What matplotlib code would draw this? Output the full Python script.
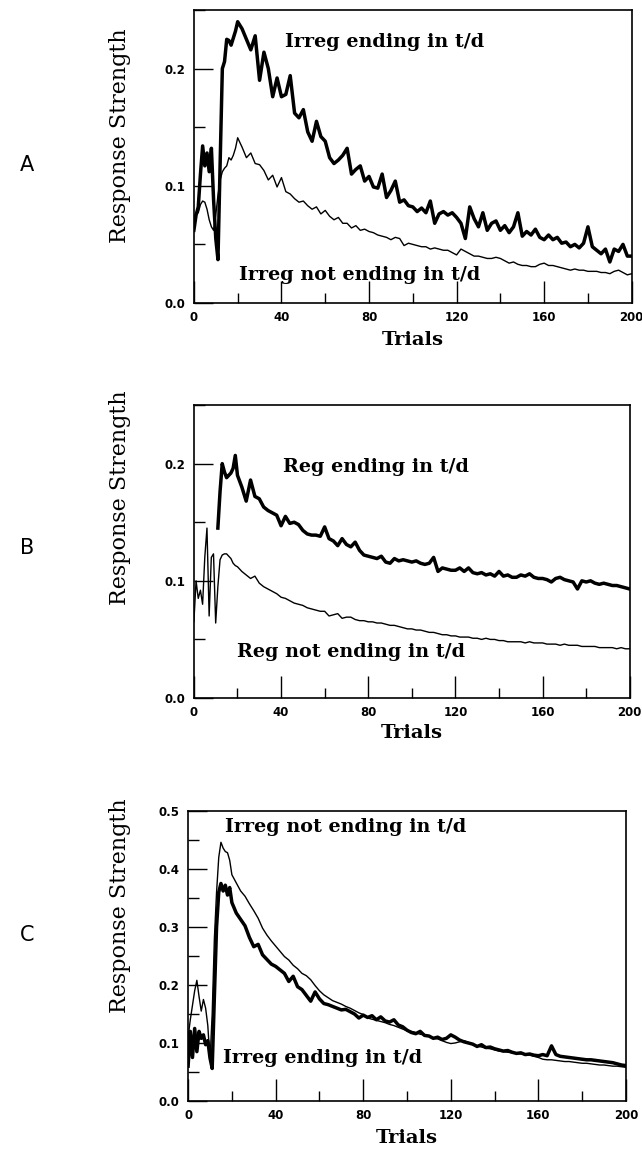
import numpy as np
import matplotlib.pyplot as plt
from matplotlib.ticker import MultipleLocator

# ==========================
# Data
# ==========================

# every trial up to 20, then every 2nd trial up to 200
trials = np.r_[np.arange(0, 21), np.arange(22, 201, 2)]

nan = np.nan

# Panel A
a_irreg_td = [
    # 0-20
    0.062, 0.075, 0.082, 0.110, 0.134, 0.117, 0.128, 0.112, 0.132, 0.088, 0.055,
    0.037, 0.120, 0.200, 0.206, 0.225, 0.224, 0.220, 0.226, 0.232, 0.240,
    # 22-40
    0.234, 0.225, 0.216, 0.228, 0.190, 0.214, 0.200, 0.176, 0.192, 0.176,
    # 42-60
    0.178, 0.194, 0.162, 0.158, 0.165, 0.146, 0.138, 0.155, 0.142, 0.138,
    # 62-80
    0.124, 0.119, 0.122, 0.126, 0.132, 0.110, 0.114, 0.117, 0.104, 0.108,
    # 82-100
    0.099, 0.098, 0.110, 0.090, 0.096, 0.104, 0.086, 0.088, 0.083, 0.082,
    # 102-120
    0.078, 0.081, 0.077, 0.087, 0.068, 0.076, 0.078, 0.075, 0.077, 0.073,
    # 122-140
    0.068, 0.055, 0.082, 0.072, 0.065, 0.077, 0.062, 0.068, 0.070, 0.062,
    # 142-160
    0.066, 0.060, 0.065, 0.077, 0.057, 0.061, 0.058, 0.063, 0.056, 0.054,
    # 162-180
    0.058, 0.054, 0.056, 0.051, 0.052, 0.048, 0.050, 0.047, 0.051, 0.065,
    # 182-200
    0.048, 0.045, 0.042, 0.046, 0.035, 0.046, 0.044, 0.050, 0.040, 0.040,
]

a_irreg_not_td = [
    # 0-20
    0.074, 0.076, 0.077, 0.084, 0.087, 0.086, 0.080, 0.071, 0.065, 0.062, 0.075,
    0.092, 0.105, 0.112, 0.115, 0.117, 0.124, 0.122, 0.126, 0.132, 0.141,
    # 22-40
    0.133, 0.124, 0.128, 0.119, 0.118, 0.113, 0.105, 0.109, 0.099, 0.107,
    # 42-60
    0.095, 0.093, 0.089, 0.086, 0.087, 0.083, 0.080, 0.082, 0.076, 0.079,
    # 62-80
    0.074, 0.071, 0.073, 0.068, 0.068, 0.064, 0.066, 0.062, 0.063, 0.061,
    # 82-100
    0.060, 0.058, 0.057, 0.056, 0.054, 0.056, 0.055, 0.049, 0.051, 0.050,
    # 102-120
    0.049, 0.048, 0.048, 0.046, 0.047, 0.046, 0.045, 0.045, 0.043, 0.041,
    # 122-140
    0.046, 0.044, 0.042, 0.040, 0.040, 0.039, 0.038, 0.038, 0.039, 0.038,
    # 142-160
    0.036, 0.034, 0.035, 0.033, 0.032, 0.032, 0.031, 0.031, 0.033, 0.034,
    # 162-180
    0.032, 0.032, 0.031, 0.030, 0.029, 0.028, 0.029, 0.028, 0.028, 0.027,
    # 182-200
    0.027, 0.027, 0.026, 0.026, 0.025, 0.027, 0.028, 0.026, 0.024, 0.025,
]

# Panel B
b_reg_td = [
    # 0-20
    nan, nan, nan, nan, nan, nan, nan, nan, nan, nan, nan,
    0.145, 0.176, 0.200, 0.193, 0.188, 0.190, 0.192, 0.196, 0.207, 0.190,
    # 22-40
    0.180, 0.168, 0.186, 0.172, 0.170, 0.163, 0.160, 0.158, 0.156, 0.147,
    # 42-60
    0.155, 0.149, 0.150, 0.148, 0.143, 0.140, 0.139, 0.139, 0.138, 0.146,
    # 62-80
    0.136, 0.134, 0.130, 0.136, 0.131, 0.129, 0.133, 0.126, 0.122, 0.121,
    # 82-100
    0.120, 0.119, 0.121, 0.116, 0.115, 0.119, 0.117, 0.118, 0.117, 0.116,
    # 102-120
    0.117, 0.115, 0.114, 0.115, 0.120, 0.108, 0.111, 0.110, 0.109, 0.109,
    # 122-140
    0.111, 0.108, 0.111, 0.107, 0.106, 0.107, 0.105, 0.106, 0.104, 0.108,
    # 142-160
    0.104, 0.105, 0.103, 0.103, 0.105, 0.104, 0.106, 0.103, 0.102, 0.102,
    # 162-180
    0.101, 0.099, 0.102, 0.103, 0.101, 0.100, 0.099, 0.093, 0.100, 0.099,
    # 182-200
    0.100, 0.098, 0.097, 0.098, 0.097, 0.096, 0.096, 0.095, 0.094, 0.093,
]

b_reg_not_td = [
    # 0-20
    0.065, 0.100, 0.085, 0.092, 0.080, 0.120, 0.145, 0.070, 0.120, 0.123, 0.064,
    0.095, 0.118, 0.122, 0.123, 0.123, 0.121, 0.119, 0.115, 0.113, 0.112,
    # 22-40
    0.108, 0.105, 0.102, 0.104, 0.098, 0.095, 0.093, 0.091, 0.089, 0.086,
    # 42-60
    0.085, 0.083, 0.081, 0.080, 0.079, 0.077, 0.076, 0.075, 0.074, 0.074,
    # 62-80
    0.070, 0.071, 0.072, 0.068, 0.069, 0.069, 0.067, 0.066, 0.066, 0.065,
    # 82-100
    0.065, 0.064, 0.064, 0.063, 0.062, 0.062, 0.061, 0.060, 0.059, 0.059,
    # 102-120
    0.058, 0.058, 0.057, 0.056, 0.056, 0.055, 0.054, 0.054, 0.053, 0.053,
    # 122-140
    0.052, 0.052, 0.052, 0.051, 0.051, 0.050, 0.051, 0.050, 0.050, 0.049,
    # 142-160
    0.049, 0.048, 0.048, 0.048, 0.048, 0.047, 0.048, 0.047, 0.047, 0.047,
    # 162-180
    0.046, 0.046, 0.046, 0.045, 0.046, 0.045, 0.045, 0.045, 0.044, 0.044,
    # 182-200
    0.044, 0.044, 0.043, 0.043, 0.043, 0.043, 0.042, 0.043, 0.042, 0.042,
]

# Panel C
c_irreg_td = [
    # 0-20
    0.060, 0.120, 0.075, 0.125, 0.085, 0.120, 0.108, 0.114, 0.097, 0.104, 0.074,
    0.056, 0.180, 0.300, 0.360, 0.375, 0.362, 0.372, 0.355, 0.368, 0.342,
    # 22-40
    0.324, 0.313, 0.302, 0.282, 0.266, 0.270, 0.252, 0.244, 0.236, 0.232,
    # 42-60
    0.226, 0.220, 0.206, 0.215, 0.197, 0.192, 0.182, 0.172, 0.188, 0.176,
    # 62-80
    0.168, 0.166, 0.163, 0.160, 0.157, 0.158, 0.154, 0.150, 0.143, 0.148,
    # 82-100
    0.144, 0.147, 0.140, 0.145, 0.138, 0.136, 0.140, 0.131, 0.128, 0.122,
    # 102-120
    0.118, 0.116, 0.120, 0.113, 0.112, 0.108, 0.110, 0.106, 0.108, 0.114,
    # 122-140
    0.110, 0.105, 0.102, 0.100, 0.098, 0.094, 0.097, 0.092, 0.093, 0.090,
    # 142-160
    0.088, 0.086, 0.087, 0.084, 0.082, 0.083, 0.080, 0.081, 0.079, 0.078,
    # 162-180
    0.080, 0.078, 0.095, 0.080, 0.077, 0.076, 0.075, 0.074, 0.073, 0.072,
    # 182-200
    0.071, 0.071, 0.070, 0.069, 0.068, 0.067, 0.066, 0.064, 0.062, 0.061,
]

c_irreg_not_td = [
    # 0-20
    0.110, 0.140, 0.165, 0.190, 0.208, 0.180, 0.155, 0.175, 0.160, 0.130, 0.070,
    0.150, 0.280, 0.360, 0.420, 0.446, 0.436, 0.430, 0.428, 0.415, 0.390,
    # 22-40
    0.376, 0.362, 0.353, 0.340, 0.328, 0.315, 0.298, 0.286, 0.276, 0.267,
    # 42-60
    0.258, 0.249, 0.243, 0.234, 0.228, 0.220, 0.216, 0.209, 0.199, 0.190,
    # 62-80
    0.183, 0.178, 0.173, 0.170, 0.167, 0.163, 0.160, 0.156, 0.152, 0.149,
    # 82-100
    0.143, 0.141, 0.139, 0.137, 0.135, 0.132, 0.130, 0.127, 0.124, 0.121,
    # 102-120
    0.120, 0.118, 0.115, 0.114, 0.112, 0.108, 0.107, 0.104, 0.101, 0.099,
    # 122-140
    0.100, 0.102, 0.104, 0.101, 0.097, 0.095, 0.093, 0.091, 0.090, 0.088,
    # 142-160
    0.086, 0.085, 0.084, 0.083, 0.082, 0.081, 0.080, 0.079, 0.077, 0.075,
    # 162-180
    0.072, 0.071, 0.071, 0.070, 0.069, 0.068, 0.068, 0.067, 0.066, 0.065,
    # 182-200
    0.065, 0.064, 0.063, 0.062, 0.062, 0.061, 0.060, 0.060, 0.059, 0.058,
]

panel_letters = ["A", "B", "C"]

labels_a = ["Irreg ending in t/d", "Irreg not ending in t/d"]
labels_b = ["Reg ending in t/d", "Reg not ending in t/d"]
labels_c = ["Irreg ending in t/d", "Irreg not ending in t/d"]


# ==========================
# Figure
# ==========================

fig = plt.figure(figsize=(6.42, 11.49), dpi=100)

serif = "DejaVu Serif"

panels = [
    dict(rect=[0.302, 0.7363, 0.682, 0.2550], ymax=0.25,
         thick=a_irreg_td, thin=a_irreg_not_td, labels=labels_a,
         pos=[(41.5, 0.223), (20.5, 0.024)],
         letter_y=0.856, ylab_y=0.882, trials_y=0.704),
    dict(rect=[0.302, 0.3925, 0.679, 0.2550], ymax=0.25,
         thick=b_reg_td, thin=b_reg_not_td, labels=labels_b,
         pos=[(40.8, 0.197), (19.7, 0.039)],
         letter_y=0.523, ylab_y=0.567, trials_y=0.362),
    dict(rect=[0.293, 0.0418, 0.682, 0.2524], ymax=0.5,
         thick=c_irreg_td, thin=c_irreg_not_td, labels=labels_c,
         pos=[(16.0, 0.074), (16.9, 0.472)],
         letter_y=0.186, ylab_y=0.212, trials_y=0.010),
]

for letter, p in zip(panel_letters, panels):
    ax = fig.add_axes(p["rect"])

    ax.plot(trials, p["thin"], color="black", lw=1.0)
    ax.plot(trials, p["thick"], color="black", lw=2.5)

    ax.set_xlim(0, 200)
    ax.set_ylim(0, p["ymax"])

    ax.xaxis.set_major_locator(MultipleLocator(40))
    ax.xaxis.set_minor_locator(MultipleLocator(20))
    ax.yaxis.set_major_locator(MultipleLocator(0.1))
    ax.yaxis.set_minor_locator(MultipleLocator(0.05))
    ax.yaxis.set_major_formatter(plt.FormatStrFormatter("%.1f"))

    ax.tick_params(which="both", direction="in", top=False, right=False,
                   width=1.0, labelsize=8.5, pad=6)
    ax.tick_params(axis="x", which="major", length=16)
    ax.tick_params(axis="x", which="minor", length=7)
    ax.tick_params(axis="y", which="major", length=14)
    ax.tick_params(axis="y", which="minor", length=8)
    for lab in ax.get_xticklabels() + ax.get_yticklabels():
        lab.set_fontweight("bold")

    for s in ax.spines.values():
        s.set_linewidth(1.2)

    # curve labels
    for txt, (tx, ty) in zip(p["labels"], p["pos"]):
        ax.text(tx, ty, txt, family=serif, fontweight="bold",
                fontsize=13.8, ha="left", va="center")

    fig.text(0.042, p["letter_y"], letter, family="DejaVu Sans",
             fontsize=15, ha="center", va="center")
    fig.text(0.187, p["ylab_y"], "Response Strength", family=serif,
             fontsize=16, rotation=90, ha="center", va="center")
    fig.text(p["rect"][0] + p["rect"][2] / 2, p["trials_y"], "Trials",
             family=serif, fontweight="bold", fontsize=14,
             ha="center", va="center")

fig.savefig("out.png", dpi=100)
